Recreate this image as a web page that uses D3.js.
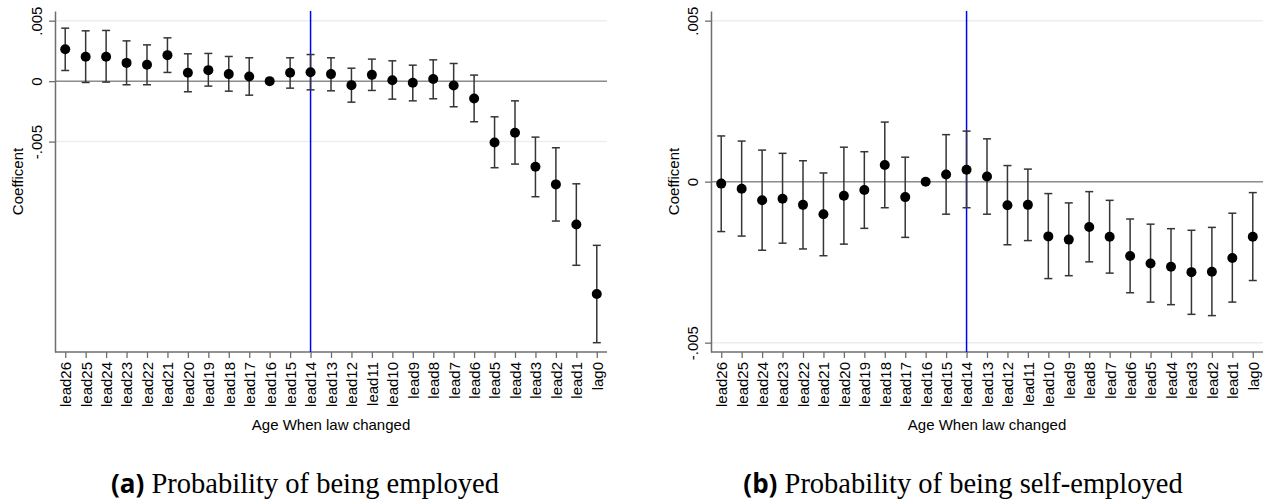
<!DOCTYPE html>
<html>
<head>
<meta charset="utf-8">
<script src="https://cdn.jsdelivr.net/npm/d3@7/dist/d3.min.js"></script>
<style>
  body { margin: 0; background: #fff; }
  svg { display: block; }
  text { font-family: "Liberation Sans", Arial, sans-serif; }
</style>
</head>
<body>
<svg width="1271" height="504"></svg>
<script>
// categories on the x axis
var categories = ["lead26","lead25","lead24","lead23","lead22","lead21","lead20","lead19","lead18",
    "lead17","lead16","lead15","lead14","lead13","lead12","lead11","lead10","lead9","lead8",
    "lead7","lead6","lead5","lead4","lead3","lead2","lead1","lag0"];

// (a) employed: coefficient, lower and upper CI
var empCoef = [0.00264, 0.00201, 0.00201, 0.00151, 0.00135, 0.00215, 0.00069, 0.00091, 0.00058,
    0.00039, 0, 0.00069, 0.00074, 0.00058, -0.00033, 0.00052, 0.00008, -0.00014, 0.00017,
    -0.00036, -0.00143, -0.00507, -0.00427, -0.00708, -0.00854, -0.01185, -0.0176];
var empLo = [0.00088, -0.00011, -0.00008, -0.0003, -0.0003, 0.00072, -0.00088, -0.00041, -0.00083,
    -0.00116, 0, -0.00058, -0.00072, -0.0008, -0.00174, -0.00077, -0.00149, -0.00163, -0.00146,
    -0.00212, -0.00336, -0.00716, -0.00686, -0.00956, -0.01157, -0.01523, -0.02163];
var empHi = [0.00438, 0.00416, 0.00419, 0.00333, 0.003, 0.00358, 0.00226, 0.00229, 0.00204,
    0.00193, 0, 0.00193, 0.0022, 0.00193, 0.00107, 0.00182, 0.00168, 0.00132, 0.00176,
    0.00146, 0.0005, -0.00295, -0.00163, -0.00463, -0.00551, -0.00849, -0.01358];

// (b) self-employed
var selfCoef = [-0.00006, -0.00022, -0.00058, -0.00053, -0.00072, -0.00101, -0.00044, -0.00026, 0.00052,
    -0.00048, 0, 0.00022, 0.00037, 0.00016, -0.00073, -0.00072, -0.0017, -0.0018, -0.00141,
    -0.00171, -0.00231, -0.00254, -0.00264, -0.00281, -0.0028, -0.00237, -0.00171];
var selfLo = [-0.00155, -0.00169, -0.00213, -0.00191, -0.00209, -0.0023, -0.00194, -0.00145, -0.00081,
    -0.00173, 0, -0.00101, -0.00081, -0.00101, -0.00196, -0.00183, -0.00301, -0.00292, -0.00249,
    -0.00284, -0.00345, -0.00374, -0.00382, -0.00412, -0.00416, -0.00374, -0.00307];
var selfHi = [0.00142, 0.00126, 0.00098, 0.00088, 0.00065, 0.00027, 0.00107, 0.00093, 0.00185,
    0.00076, 0, 0.00146, 0.00157, 0.00133, 0.0005, 0.00039, -0.00037, -0.00066, -0.00031,
    -0.00058, -0.00116, -0.00132, -0.00146, -0.00151, -0.00142, -0.00098, -0.00034];

var yTicks = [0.005, 0, -0.005];
var yTickLabels = [".005", "0", "-.005"];
var markerCat = "lead14";
var xTitle = "Age When law changed";
var yTitle = "Coefficent";

var svg = d3.select("svg");
var fmt = function(d) { return yTickLabels[yTicks.indexOf(d)]; };

function drawPanel(opt) {
    var x = d3.scalePoint().domain(categories).range([opt.left, opt.right]).padding(0.5);
    var y = d3.scaleLinear().domain(opt.domain).range([352, 11]);
    var g = svg.append("g");

    // light gridlines
    g.selectAll(".grid").data(yTicks).enter().append("line")
        .attr("x1", opt.left).attr("x2", opt.right)
        .attr("y1", function(d){ return y(d); }).attr("y2", function(d){ return y(d); })
        .attr("stroke", "#e9f0f2").attr("stroke-width", 1.5);

    // zero line
    g.append("line")
        .attr("x1", opt.left).attr("x2", opt.right)
        .attr("y1", y(0)).attr("y2", y(0))
        .attr("stroke", "#8e8e8e").attr("stroke-width", 1.5);

    // y axis
    var ya = g.append("g").attr("transform", "translate(" + opt.left + ",0)")
        .call(d3.axisLeft(y).tickValues(yTicks).tickFormat(fmt).tickSize(6).tickSizeOuter(0));
    ya.select(".domain").attr("stroke", "#6e6e6e").attr("stroke-width", 1.5);
    ya.selectAll(".tick line").attr("stroke", "#6e6e6e").attr("stroke-width", 1.3);
    ya.selectAll(".tick text")
        .attr("font-size", 15).attr("fill", "#000")
        .attr("text-anchor", "middle")
        .attr("x", null).attr("dy", null)
        .attr("transform", "translate(-13,0) rotate(-90)");

    // x axis
    var xa = g.append("g").attr("transform", "translate(0,352)")
        .call(d3.axisBottom(x).tickSize(6).tickSizeOuter(0));
    xa.select(".domain").attr("stroke", "#6e6e6e").attr("stroke-width", 1.5)
        .attr("d", "M" + opt.left + ",0H" + opt.right);
    xa.selectAll(".tick line").attr("stroke", "#6e6e6e").attr("stroke-width", 1.3);
    xa.selectAll(".tick text")
        .attr("font-size", 15).attr("fill", "#000")
        .attr("text-anchor", "end")
        .attr("y", null).attr("dy", "0.36em")
        .attr("transform", "translate(0,10) rotate(-90)");

    // vertical marker line
    g.append("line")
        .attr("x1", x(markerCat)).attr("x2", x(markerCat))
        .attr("y1", 11).attr("y2", 352)
        .attr("stroke", "#0000ff").attr("stroke-width", 1.5);

    // error bars
    var idx = d3.range(categories.length).filter(function(i){ return opt.lo[i] !== opt.hi[i]; });
    var bars = g.selectAll(".bar").data(idx).enter().append("g")
        .attr("stroke", "#353535").attr("stroke-width", 1.5);
    bars.append("line")
        .attr("x1", function(i){ return x(categories[i]); }).attr("x2", function(i){ return x(categories[i]); })
        .attr("y1", function(i){ return y(opt.lo[i]); }).attr("y2", function(i){ return y(opt.hi[i]); });
    bars.append("line")
        .attr("x1", function(i){ return x(categories[i]) - 4; }).attr("x2", function(i){ return x(categories[i]) + 4; })
        .attr("y1", function(i){ return y(opt.lo[i]); }).attr("y2", function(i){ return y(opt.lo[i]); });
    bars.append("line")
        .attr("x1", function(i){ return x(categories[i]) - 4; }).attr("x2", function(i){ return x(categories[i]) + 4; })
        .attr("y1", function(i){ return y(opt.hi[i]); }).attr("y2", function(i){ return y(opt.hi[i]); });

    // points
    g.selectAll(".pt").data(opt.coef).enter().append("circle")
        .attr("cx", function(d, i){ return x(categories[i]); })
        .attr("cy", function(d){ return y(d); })
        .attr("r", 5).attr("fill", "#000");

    // titles
    g.append("text")
        .attr("transform", "translate(" + (opt.left - 32) + ",181.5) rotate(-90)")
        .attr("text-anchor", "middle").attr("font-size", 15).text(yTitle);
    g.append("text")
        .attr("x", (opt.left + opt.right) / 2).attr("y", 430)
        .attr("text-anchor", "middle").attr("font-size", 15).text(xTitle);

    // caption
    var cap = g.append("text").attr("x", opt.capX).attr("y", 493).attr("text-anchor", "middle");
    cap.append("tspan").attr("font-family", "'Open Sans', sans-serif").attr("font-weight", 700)
        .attr("font-size", 26).text(opt.capTag);
    cap.append("tspan").attr("font-family", "'Liberation Serif', serif")
        .attr("font-size", 28.5).text("\u00a0" + opt.capText);
}

drawPanel({left: 55, right: 607, domain: [-0.0224, 0.0058],
    coef: empCoef, lo: empLo, hi: empHi,
    capX: 305, capTag: "(a)", capText: "Probability of being employed"});
drawPanel({left: 711, right: 1263, domain: [-0.00529, 0.0053],
    coef: selfCoef, lo: selfLo, hi: selfHi,
    capX: 963, capTag: "(b)", capText: "Probability of being self-employed"});
</script>
</body>
</html>
